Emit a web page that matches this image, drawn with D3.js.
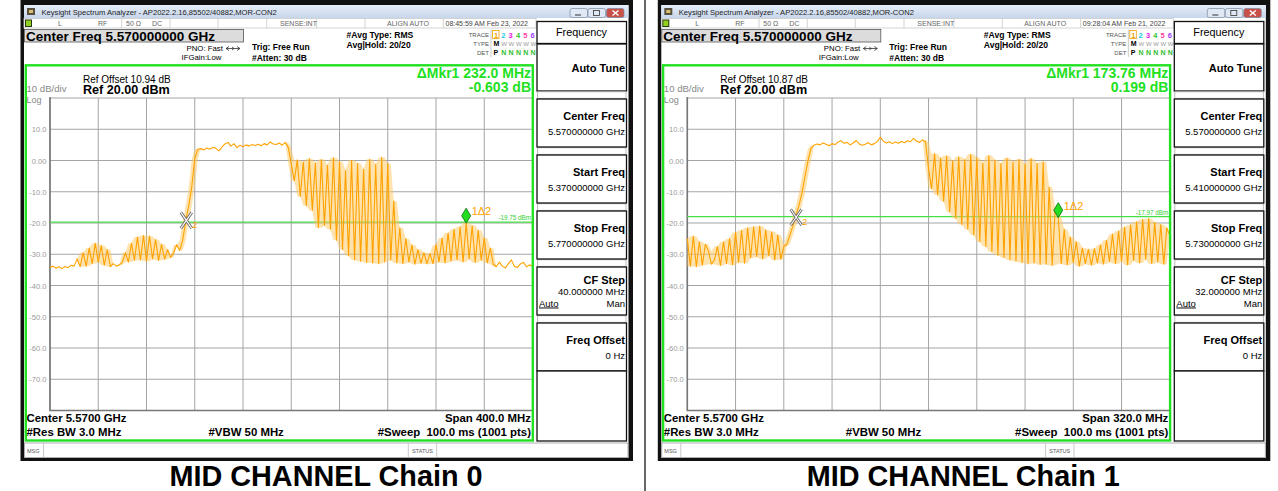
<!DOCTYPE html>
<html>
<head>
<meta charset="utf-8">
<title>MID CHANNEL Chain 0 / Chain 1</title>
<style>
  body { margin: 0; background: #fff; }
  svg { display: block; font-family: "Liberation Sans", Arial, sans-serif; }
</style>
</head>
<body>
<svg width="1278" height="491"></svg>
<script src="https://d3js.org/d3.v7.min.js"></script>
<script>
var svg = d3.select("svg");

// Per-panel settings (index 0 = Chain 0, 1 = Chain 1)
var captions = ["MID CHANNEL Chain 0", "MID CHANNEL Chain 1"];
var panelShift = [0, 637.3];
var startFreq = [5.370, 5.410];   // GHz
var stopFreq = [5.770, 5.730];    // GHz
var startLabels = ["5.370000000 GHz", "5.410000000 GHz"];
var stopLabels = ["5.770000000 GHz", "5.730000000 GHz"];
var cfStepLabels = ["40.000000 MHz", "32.000000 MHz"];
var spanLabels = ["Span 400.0 MHz", "Span 320.0 MHz"];
var refOffsetLabels = ["Ref Offset 10.94 dB", "Ref Offset 10.87 dB"];
var timeLabels = ["08:45:59 AM Feb 23, 2022", "09:28:04 AM Feb 21, 2022"];
var deltaFreqLabels = ["\u0394Mkr1 232.0 MHz", "\u0394Mkr1 173.76 MHz"];
var deltaLevelLabels = ["-0.603 dB", "0.199 dB"];
var displayLineLabels = ["-19.75 dBm", "-17.97 dBm"];
var mkr1Freq = [5.715, 5.656];
var mkr1Level = [-19.75, -17.97];
var mkr2Freq = [5.483, 5.4822];
var mkr2Level = [-19.15, -18.17];

var yTicks = [10, 0, -10, -20, -30, -40, -50, -60, -70];
var yTickLabels = ["10.0", "0.00", "-10.0", "-20.0", "-30.0", "-40.0", "-50.0", "-60.0", "-70.0"];

// Trace values in dBm, 161 points across the span
var traceChain0 = [
  -34.2,-33.8,-34.5,-34.0,-34.6,-33.9,-34.3,-33.5,-33.8,
  -31.5,-34.0,-29.5,-33.8,-28.0,-33.0,-26.5,-32.5,-27.2,-33.5,-28.5,-34.0,
  -33.0,-33.8,-33.4,-32.5,
  -29.5,-32.5,-26.5,-32.0,-24.5,-31.8,-24.0,-32.2,-24.2,-31.5,-25.3,-32.0,-26.8,-31.6,-28.5,-31.0,
  -29.5,-27.0,-28.8,-25.5,
  -19.4,-14.5,-8.5,0.5,3.6,
  3.8,3.4,4.0,3.6,4.2,3.9,3.1,4.3,5.3,5.8,4.6,5.4,4.1,4.9,4.4,
  5.0,4.6,5.1,4.8,5.2,4.7,5.4,5.0,5.9,5.3,5.1,5.6,4.9,5.8,4.2,
  -1.0,-6.5,0.2,-11.5,-0.5,-14.5,0.6,-16.0,-0.8,-21.5,
  0.3,-20.8,-1.5,-22.0,0.9,-25.5,-0.3,-28.5,-3.2,-30.5,
  0.1,-31.8,-0.9,-32.2,-2.8,-32.6,0.4,-32.8,-1.2,-33.0,
  1.0,-32.5,-1.0,-31.8,
  -13.0,-32.8,-21.5,-33.0,-25.0,-32.5,-27.0,-33.2,-28.5,-32.9,-29.5,-33.1,
  -29.8,-33.0,-27.0,-32.5,-24.8,-32.8,-23.2,-32.2,-22.0,-31.8,-21.2,-32.5,-19.9,-31.5,-20.8,
  -32.6,-22.3,-31.9,-24.8,-32.8,-28.0,
  -33.2,-34.0,-32.5,-33.8,-34.4,-33.0,-31.8,-33.9,-34.2,-33.1,-32.6,-34.0,-33.4,-33.8
];
var traceChain1 = [
  -25.0,-33.8,-24.2,-34.0,-26.0,-33.5,-26.8,
  -29.0,-33.2,-31.8,
  -27.5,-33.6,-26.0,-33.0,-25.0,-33.4,-23.0,-32.6,-22.3,-32.9,
  -21.5,-31.2,-21.2,-30.8,-21.0,-31.5,-22.2,-30.5,-22.8,-31.8,
  -23.8,-31.6,
  -27.5,-26.8,
  -24.0,-21.0,-17.5,-14.5,-10.5,-5.2,-0.2,3.8,4.9,
  5.3,5.0,5.6,5.2,4.7,5.4,5.1,5.9,6.3,5.5,
  5.8,5.0,5.6,6.4,5.3,4.9,5.2,5.7,5.0,5.4,
  6.0,7.5,6.2,5.6,6.0,5.4,5.9,5.5,6.1,5.7,
  6.3,6.0,7.1,6.2,5.8,6.6,5.9,
  -2.5,-9.0,2.2,-11.0,0.8,-13.0,1.5,-16.5,-0.2,-18.5,
  1.2,-20.5,0.3,-22.0,2.0,-23.8,0.9,-26.0,-0.8,-27.5,
  1.6,-29.2,0.2,-30.3,-1.0,-31.0,0.8,-31.8,-0.5,-32.2,
  0.4,-32.6,-1.2,-33.0,0.6,-32.8,-0.9,-33.3,-0.4,-33.2,
  -8.5,-33.6,-15.5,
  -18.0,
  -33.0,-22.0,-33.4,-24.5,-32.6,-26.0,-33.8,-28.0,-33.0,-28.4,-33.5,-28.2,
  -32.8,-27.0,-33.2,-25.5,-32.4,-23.5,-33.0,-22.6,-32.2,-21.3,
  -33.4,-20.6,-32.0,-19.6,-32.8,-18.9,-31.6,-18.6,-33.0,-19.8,
  -32.5,-20.5,-33.2,-21.5,-24.0
];
var traces = [traceChain0, traceChain1];

var menuLabels = ["Center Freq", "Start Freq", "Stop Freq", "CF Step", "Freq Offset"];
var traceDigitColors = ["#f0a000", "#20c8e8", "#e020e0", "#30c030", "#ff40a0", "#a040ff"];

var green = "#22e022";
var orange = "#ffa200";

function txt(g, x, y, s, size, opts) {
    opts = opts || {};
    return g.append("text")
        .attr("x", x).attr("y", y)
        .attr("font-size", size)
        .attr("font-weight", opts.bold ? "bold" : null)
        .attr("text-anchor", opts.anchor || "start")
        .attr("fill", opts.fill || "#000")
        .text(s);
}

function drawPanel(p) {
    var g = svg.append("g").attr("transform", "translate(" + panelShift[p] + ",0)");

    // window frame
    g.append("rect").attr("x", 20.5).attr("y", 0).attr("width", 612.5).attr("height", 461).attr("fill", "#111");
    g.append("rect").attr("x", 24).attr("y", 5).attr("width", 604.5).attr("height", 453).attr("fill", "#fff");

    // title bar
    var grad = svg.append("defs").append("linearGradient")
        .attr("id", "tb" + p).attr("x1", 0).attr("y1", 0).attr("x2", 0).attr("y2", 1);
    grad.append("stop").attr("offset", 0).attr("stop-color", "#e6eef9");
    grad.append("stop").attr("offset", 1).attr("stop-color", "#c7d6eb");
    g.append("rect").attr("x", 24).attr("y", 5).attr("width", 604.5).attr("height", 13).attr("fill", "url(#tb" + p + ")");
    g.append("rect").attr("x", 27).attr("y", 8).attr("width", 8).attr("height", 7).attr("fill", "#5a5040");
    g.append("rect").attr("x", 29).attr("y", 10).attr("width", 4).attr("height", 3).attr("fill", "#d8c070");
    txt(g, 41.5, 15, "Keysight Spectrum Analyzer - AP2022.2.16,85502/40882,MOR-CON2", 7.6, {fill: "#222"});
    [[570, "#dfe8f4"], [588, "#dfe8f4"], [606.5, "#c85048"]].forEach(function(b) {
        g.append("rect").attr("x", b[0]).attr("y", 8.5).attr("width", 17.5).attr("height", 9)
            .attr("rx", 2).attr("fill", b[1]).attr("stroke", "#7a8aa0").attr("stroke-width", 0.7);
    });
    g.append("line").attr("x1", 575).attr("x2", 581).attr("y1", 15).attr("y2", 15).attr("stroke", "#333");
    g.append("rect").attr("x", 593.5).attr("y", 10.5).attr("width", 6).attr("height", 5).attr("fill", "none").attr("stroke", "#333").attr("stroke-width", 0.8);
    g.append("path").attr("d", "M612.5,10.5 L618.5,15.5 M618.5,10.5 L612.5,15.5").attr("stroke", "#fff").attr("stroke-width", 1.4);

    // status row
    g.append("rect").attr("x", 24).attr("y", 18.5).attr("width", 512).attr("height", 9.5)
        .attr("fill", "#fff").attr("stroke", "#c8c8c8").attr("stroke-width", 0.8);
    g.append("rect").attr("x", 25).attr("y", 19.5).attr("width", 7).attr("height", 7.5).attr("fill", "#2a3a10");
    g.append("rect").attr("x", 26).attr("y", 20.5).attr("width", 5).attr("height", 5.5).attr("fill", "#8fd020");
    [121.7, 170, 218, 266.7, 316.7, 365, 443.3].forEach(function(sx) {
        g.append("line").attr("x1", sx).attr("x2", sx).attr("y1", 18.5).attr("y2", 28).attr("stroke", "#c8c8c8").attr("stroke-width", 0.8);
    });
    txt(g, 58, 25.5, "L", 7, {fill: "#666"});
    txt(g, 98, 25.5, "RF", 7, {fill: "#666"});
    txt(g, 126, 25.5, "50 \u03A9", 7, {fill: "#666"});
    txt(g, 152, 25.5, "DC", 7, {fill: "#666"});
    txt(g, 280, 25.5, "SENSE:INT", 7, {fill: "#666"});
    txt(g, 387, 25.5, "ALIGN AUTO", 7, {fill: "#666"});
    txt(g, 445.5, 25.5, timeLabels[p], 7, {fill: "#444"});

    // header
    g.append("rect").attr("x", 24.5).attr("y", 29.5).attr("width", 219).attr("height", 12.5)
        .attr("fill", "#dcdcdc").attr("stroke", "#555").attr("stroke-width", 0.8);
    txt(g, 26, 40.5, "Center Freq 5.570000000 GHz", 13.5, {bold: true});
    txt(g, 186.5, 51, "PNO: Fast", 7.8);
    g.append("path").attr("d", "M226,48.5 L240,48.5 M229,46.5 L226,48.5 L229,50.5 M237,46.5 L240,48.5 L237,50.5 M232,47 L234,48.5 L232,50")
        .attr("stroke", "#333").attr("stroke-width", 0.8).attr("fill", "none");
    txt(g, 181.5, 60, "IFGain:Low", 7.8);
    txt(g, 252, 50, "Trig: Free Run", 8.5, {bold: true});
    txt(g, 252, 60.5, "#Atten: 30 dB", 8.5, {bold: true});
    txt(g, 346.5, 38, "#Avg Type: RMS", 8.6, {bold: true});
    txt(g, 346.5, 48, "Avg|Hold: 20/20", 8.6, {bold: true});

    // trace / type / det box
    txt(g, 489, 37, "TRACE", 6, {anchor: "end", fill: "#555"});
    txt(g, 489, 46, "TYPE", 6, {anchor: "end", fill: "#555"});
    txt(g, 489, 54.5, "DET", 6, {anchor: "end", fill: "#555"});
    g.append("line").attr("x1", 491).attr("x2", 491).attr("y1", 29.5).attr("y2", 57).attr("stroke", "#bbb").attr("stroke-width", 0.8);
    g.append("rect").attr("x", 492.5).attr("y", 30.5).attr("width", 6.5).attr("height", 8).attr("fill", "none").attr("stroke", "#f0a000").attr("stroke-width", 0.8);
    traceDigitColors.forEach(function(c, k) {
        txt(g, 494 + k * 7.3, 37.5, String(k + 1), 7.5, {bold: true, fill: c});
        if (k > 0) {
            txt(g, 494 + k * 7.3, 46, "W", 6, {fill: "#999"});
            txt(g, 494 + k * 7.3, 54.5, "N", 7, {bold: true, fill: "#30c030"});
        }
    });
    txt(g, 493.5, 46, "M", 7, {bold: true});
    txt(g, 493.5, 54.5, "P", 7, {bold: true});

    // right-hand softkey menu
    var menu = g.append("g");
    menu.append("rect").attr("x", 537).attr("y", 21.5).attr("width", 89.5).attr("height", 22)
        .attr("fill", "#fff").attr("stroke", "#111").attr("stroke-width", 1.3);
    txt(menu, 581.5, 36, "Frequency", 10.8, {anchor: "middle"});
    menu.append("rect").attr("x", 537).attr("y", 44).attr("width", 89.5).attr("height", 47)
        .attr("fill", "#fff").attr("stroke", "#111").attr("stroke-width", 1.3);
    txt(menu, 625, 72, "Auto Tune", 11, {bold: true, anchor: "end"});
    var gaps = [91, 147, 203, 259, 315];
    gaps.forEach(function(gy) {
        menu.append("rect").attr("x", 537.5).attr("y", gy + 0.8).attr("width", 88.5).attr("height", 6.5)
            .attr("fill", "#fff").attr("stroke", "#aaa").attr("stroke-width", 0.8);
    });
    var menuValues = ["5.570000000 GHz", startLabels[p], stopLabels[p], cfStepLabels[p], "0 Hz"];
    menuLabels.forEach(function(lab, k) {
        var top = 99 + k * 56;
        menu.append("rect").attr("x", 537).attr("y", top).attr("width", 89.5).attr("height", 48)
            .attr("fill", "#fff").attr("stroke", "#111").attr("stroke-width", 1.3);
        if (lab === "CF Step") {
            txt(menu, 625, top + 17, lab, 11, {bold: true, anchor: "end"});
            txt(menu, 625, top + 28, menuValues[k], 9.5, {anchor: "end"});
            txt(menu, 539, top + 39.5, "Auto", 9.5).attr("text-decoration", "underline");
            txt(menu, 625, top + 39.5, "Man", 9.5, {anchor: "end"});
        } else {
            txt(menu, 625, top + 21, lab, 11, {bold: true, anchor: "end"});
            txt(menu, 625, top + 36, menuValues[k], 9.5, {anchor: "end"});
        }
    });
    menu.append("rect").attr("x", 537).attr("y", 371).attr("width", 89.5).attr("height", 70)
        .attr("fill", "#fff").attr("stroke", "#111").attr("stroke-width", 1.3);

    // plot area
    var x = d3.scaleLinear().domain([startFreq[p], stopFreq[p]]).range([50, 532.5]);
    var y = d3.scaleLinear().domain([-80, 20]).range([410.5, 98]);

    txt(g, 83, 83, refOffsetLabels[p], 10);
    txt(g, 83, 94, "Ref 20.00 dBm", 12.6, {bold: true});
    txt(g, 26.5, 92, "10 dB/div", 9.6, {fill: "#888"});
    txt(g, 26.5, 102.5, "Log", 9, {fill: "#888"});
    txt(g, 531, 77.5, deltaFreqLabels[p], 14, {bold: true, anchor: "end", fill: green});
    txt(g, 531, 92, deltaLevelLabels[p], 14, {bold: true, anchor: "end", fill: green});

    var xDivs = d3.range(11).map(function(k) {
        return startFreq[p] + k * (stopFreq[p] - startFreq[p]) / 10;
    });
    g.append("g").selectAll("line").data(yTicks.concat([20])).enter().append("line")
        .attr("x1", 50).attr("x2", 532.5)
        .attr("y1", function(d) { return y(d); }).attr("y2", function(d) { return y(d); })
        .attr("stroke", "#a4a4a4").attr("stroke-width", 1);
    g.append("g").selectAll("line").data(xDivs).enter().append("line")
        .attr("y1", 98).attr("y2", 410.5)
        .attr("x1", function(d) { return x(d); }).attr("x2", function(d) { return x(d); })
        .attr("stroke", "#a4a4a4").attr("stroke-width", 1);
    g.append("path").attr("d", "M50,97 L50,410.5 L532.5,410.5")
        .attr("stroke", "#777").attr("stroke-width", 1.6).attr("fill", "none");
    g.append("g").selectAll("text").data(yTicks).enter().append("text")
        .attr("x", 46.5).attr("y", function(d) { return y(d) + 3; })
        .attr("text-anchor", "end").attr("font-size", 7.6).attr("fill", "#9a9a9a")
        .text(function(d, k) { return yTickLabels[k]; });

    // display line at marker 1 level
    g.append("line").attr("x1", 50).attr("x2", 532.5)
        .attr("y1", y(mkr1Level[p])).attr("y2", y(mkr1Level[p]))
        .attr("stroke", "#44e044").attr("stroke-width", 1.3);
    txt(g, 531, y(mkr1Level[p]) - 2, displayLineLabels[p], 6.3, {anchor: "end", fill: "#30d030"});

    // trace: pale band where the sweep swings hard between samples, then the line itself
    var data = traces[p];
    var n = data.length;
    var step = (stopFreq[p] - startFreq[p]) / (n - 1);
    var fx = function(d, i) { return x(startFreq[p] + i * step); };
    function around(i) { return [data[Math.max(i - 1, 0)], data[i], data[Math.min(i + 1, n - 1)]]; }
    var band = d3.area()
        .x(fx)
        .y0(function(d, i) { var e = d3.extent(around(i)); return y(e[1] - e[0] < 3 ? d : e[0]); })
        .y1(function(d, i) { var e = d3.extent(around(i)); return y(e[1] - e[0] < 3 ? d : e[1]); });
    g.append("path").datum(data).attr("d", band)
        .attr("fill", "#ffc860").attr("opacity", 0.5);
    var line = d3.line().x(fx).y(function(d) { return y(d); });
    g.append("path").datum(data).attr("d", line)
        .attr("fill", "none").attr("stroke", orange).attr("stroke-width", 1.1).attr("stroke-linejoin", "round");

    // marker 2 (reference X)
    var m2x = x(mkr2Freq[p]), m2y = y(mkr2Level[p]);
    var xPath = "M" + (m2x - 5.5) + "," + (m2y - 8) + " L" + (m2x + 5.5) + "," + (m2y + 8) +
                " M" + (m2x + 5.5) + "," + (m2y - 8) + " L" + (m2x - 5.5) + "," + (m2y + 8);
    g.append("path").attr("d", xPath).attr("stroke", "#666").attr("stroke-width", 2.8);
    g.append("path").attr("d", xPath).attr("stroke", "#fff").attr("stroke-width", 1.1);
    txt(g, m2x + 6, m2y + 8, "2", 9, {fill: orange});

    // marker 1 (delta diamond)
    var m1x = x(mkr1Freq[p]), m1y = y(mkr1Level[p]);
    g.append("path")
        .attr("d", "M" + m1x + "," + (m1y - 14) + " L" + (m1x + 4.5) + "," + (m1y - 6.5) +
                   " L" + m1x + "," + (m1y + 1) + " L" + (m1x - 4.5) + "," + (m1y - 6.5) + "Z")
        .attr("fill", "#22dd22").attr("stroke", "#0a6a0a").attr("stroke-width", 0.8);
    txt(g, m1x + 5.5, m1y - 7, "1\u03942", 11, {fill: orange});

    // bottom annotations
    txt(g, 26.5, 422, "Center 5.5700 GHz", 11.4, {bold: true});
    txt(g, 26.5, 436, "#Res BW 3.0 MHz", 11.4, {bold: true});
    txt(g, 208.5, 436, "#VBW 50 MHz", 11.4, {bold: true});
    txt(g, 531, 422, spanLabels[p], 11.4, {bold: true, anchor: "end"});
    txt(g, 531, 436, "#Sweep  100.0 ms (1001 pts)", 11.4, {bold: true, anchor: "end"}).attr("xml:space", "preserve");

    // green frame round the measurement area
    g.append("rect").attr("x", 25.8).attr("y", 65.3).attr("width", 507).attr("height", 375.2)
        .attr("fill", "none").attr("stroke", green).attr("stroke-width", 2.4);

    // message row
    g.append("rect").attr("x", 24.5).attr("y", 443).attr("width", 603.5).attr("height", 14.5)
        .attr("fill", "#fff").attr("stroke", "#999").attr("stroke-width", 0.8);
    [43.5, 408.3, 436.7].forEach(function(sx) {
        g.append("line").attr("x1", sx).attr("x2", sx).attr("y1", 443).attr("y2", 457.5).attr("stroke", "#bbb").attr("stroke-width", 0.8);
    });
    txt(g, 27, 452.5, "MSG", 5.5, {fill: "#555"});
    txt(g, 422.5, 452.5, "STATUS", 5.5, {anchor: "middle", fill: "#555"});

    // caption
    txt(g, 326, 485.5, captions[p], 28.8, {bold: true, anchor: "middle"});
}

drawPanel(0);
drawPanel(1);

// cell divider between the two screenshots
svg.append("line").attr("x1", 645).attr("x2", 645).attr("y1", 0).attr("y2", 491).attr("stroke", "#000").attr("stroke-width", 1.2);
</script>
</body>
</html>
